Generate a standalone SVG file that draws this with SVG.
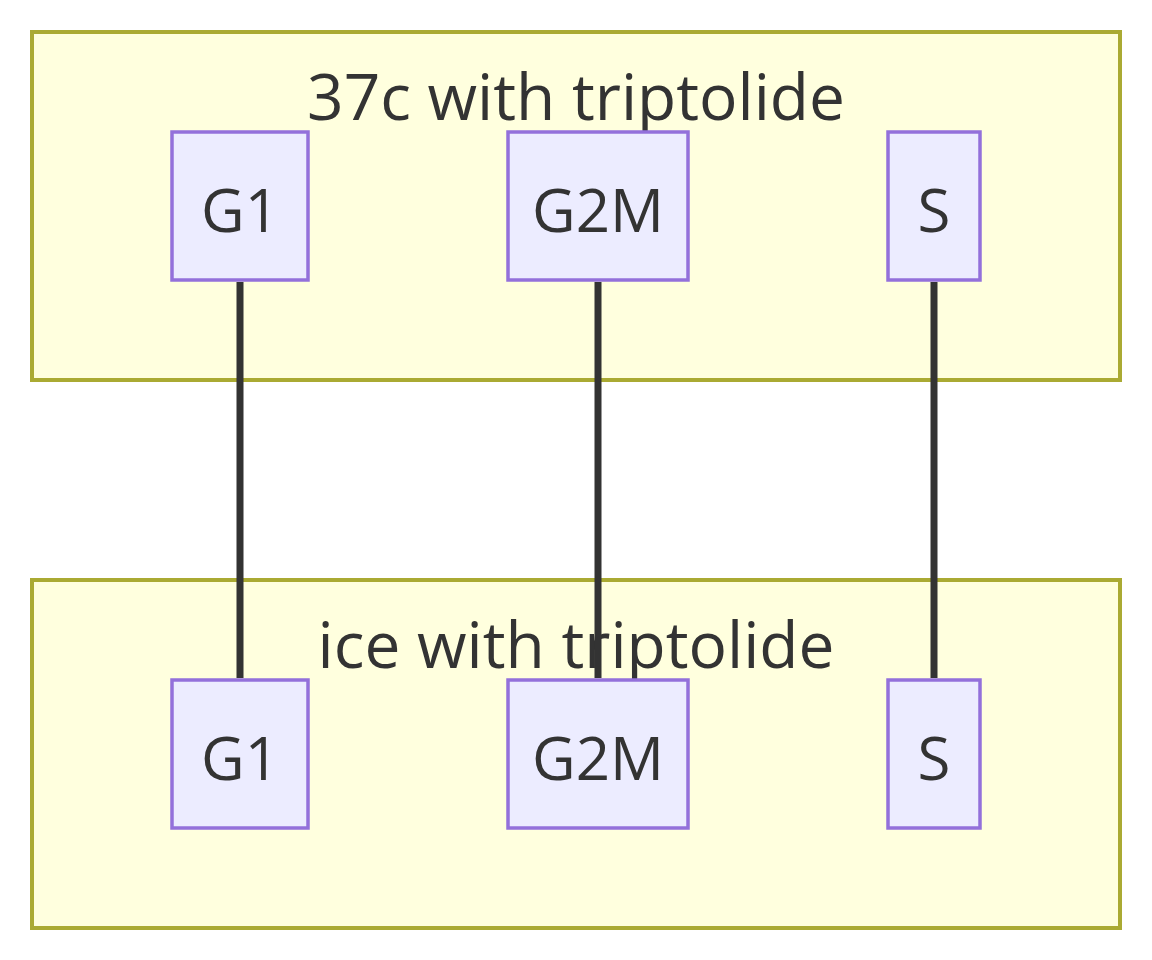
<svg xmlns="http://www.w3.org/2000/svg" width="1152" height="960" viewBox="0 0 1152 960">
<style>
.cluster{fill:#ffffde;stroke:#aaaa33;stroke-width:4}
.node rect{fill:#ececff;stroke:#9370db;stroke-width:3.5}
.t{font-family:"Open Sans","DejaVu Sans",sans-serif;fill:#333;text-anchor:middle}
.title{font-size:64px}
.lbl{font-size:60px}
.edge{stroke:#333;stroke-width:7;fill:none}
</style>
<rect width="1152" height="960" fill="#ffffff"/>
<g id="cluster-top">
<rect class="cluster" x="32" y="32" width="1088" height="348"/>
<text class="t title" x="576" y="120">37c with triptolide</text>
</g>
<g id="cluster-bottom">
<rect class="cluster" x="32" y="580" width="1088" height="348"/>
<text class="t title" x="576" y="668">ice with triptolide</text>
</g>
<g id="connectors">
<line class="edge" x1="240" y1="282" x2="240" y2="678"/>
<line class="edge" x1="598" y1="282" x2="598" y2="678"/>
<line class="edge" x1="934" y1="282" x2="934" y2="678"/>
</g>
<g id="top-G1" class="node"><rect x="172" y="132" width="136" height="148"/><text class="t lbl" x="240" y="232">G1</text></g>
<g id="top-G2M" class="node"><rect x="508" y="132" width="180" height="148"/><text class="t lbl" x="598" y="232">G2M</text></g>
<g id="top-S" class="node"><rect x="888" y="132" width="92" height="148"/><text class="t lbl" x="934" y="232">S</text></g>
<g id="bot-G1" class="node"><rect x="172" y="680" width="136" height="148"/><text class="t lbl" x="240" y="780">G1</text></g>
<g id="bot-G2M" class="node"><rect x="508" y="680" width="180" height="148"/><text class="t lbl" x="598" y="780">G2M</text></g>
<g id="bot-S" class="node"><rect x="888" y="680" width="92" height="148"/><text class="t lbl" x="934" y="780">S</text></g>
</svg>
